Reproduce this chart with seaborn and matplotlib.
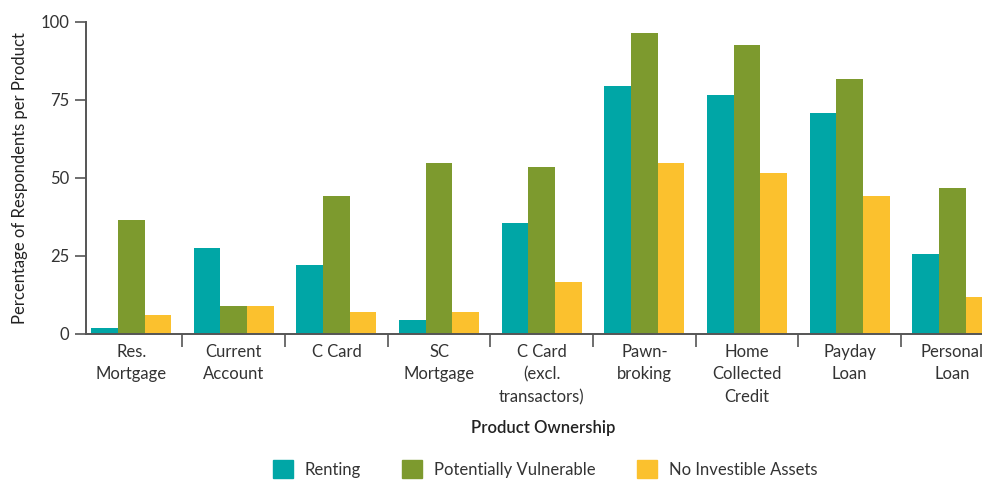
import pandas as pd
import matplotlib.pyplot as plt
import seaborn as sns

produtos = ['Res.\nMortgage', 'Current\nAccount', 'C Card', 'SC\nMortgage',
            'C Card\n(excl.\ntransactors)', 'Pawn-\nbroking', 'Home\nCollected\nCredit',
            'Payday\nLoan', 'Personal\nLoan']
renting = [2, 27.6, 22.2, 4.5, 35.6, 79.5, 76.6, 70.9, 25.7]
vulneravel = [36.6, 8.9, 44.2, 54.7, 53.4, 96.6, 92.6, 81.8, 46.7]
sem_ativos = [6.1, 8.9, 7.1, 7.1, 16.8, 54.7, 51.5, 44.2, 11.8]
series = ['Renting', 'Potentially Vulnerable', 'No Investible Assets']
cores = ['#00a6a6', '#7d9a2e', '#fbc12e']

dados = pd.DataFrame({
    'Produto': produtos * 3,
    'Grupo': [series[0]] * 9 + [series[1]] * 9 + [series[2]] * 9,
    'Valor': renting + vulneravel + sem_ativos,
})

sns.set_style('white')
plt.rcParams['font.family'] = ['Lato', 'DejaVu Sans']

fig = plt.figure(figsize=(9.82, 4.8), dpi=100)
ax = fig.add_axes([86 / 982, 146 / 480, 1 - 86 / 982, 312 / 480])

sns.barplot(data=dados, x='Produto', y='Valor', hue='Grupo', palette=cores,
            width=0.78, saturation=1, linewidth=0, ax=ax, legend=False)

ax.set_ylim(0, 100)
ax.set_xlim(-0.44, 8.29)
ax.set_yticks([0, 25, 50, 75, 100])
ax.tick_params(axis='y', labelsize=12, colors='#333333', length=8, width=1.2,
               direction='out', left=True, color='#555555', pad=4)
ax.tick_params(axis='x', which='major', length=0, labelsize=12, colors='#333333', pad=7)
ax.set_xticks([i + 0.5 for i in range(8)], minor=True)
ax.tick_params(axis='x', which='minor', length=9, width=1.2, color='#555555',
               direction='out', bottom=True)
for lbl in ax.get_xticklabels():
    lbl.set_linespacing(1.5)

for s in ['top', 'right']:
    ax.spines[s].set_visible(False)
for s in ['left', 'bottom']:
    ax.spines[s].set_color('#555555')
    ax.spines[s].set_linewidth(1.4)

ax.set_ylabel('Percentage of Respondents per Product', fontsize=12, color='#222222', labelpad=9)
ax.set_xlabel('')
fig.text(543 / 982, 1 - 428 / 480, 'Product Ownership', ha='center', va='center',
         fontsize=12, fontweight='semibold', color='#222222')

handles = [plt.Rectangle((0, 0), 1, 1, color=c) for c in cores]
fig.legend(handles, series, loc='center', bbox_to_anchor=(545 / 982, 1 - 469 / 480),
           ncol=3, frameon=False, fontsize=12, handlelength=1.2, handleheight=1.3,
           handletextpad=0.7, columnspacing=2.5, labelcolor='#333333')

plt.savefig('out.png', dpi=100)
